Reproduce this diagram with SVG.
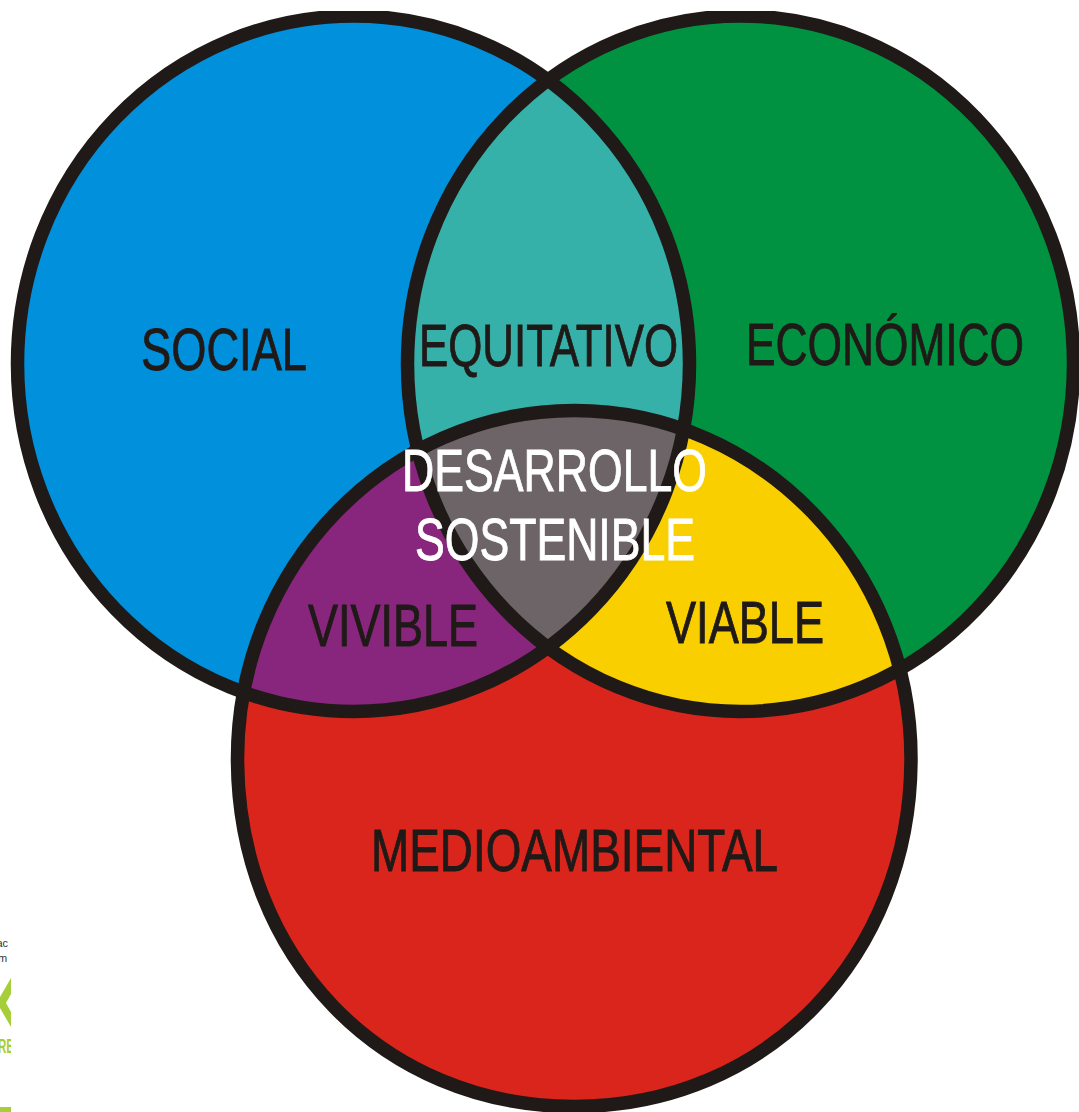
<svg xmlns="http://www.w3.org/2000/svg" width="1079" height="1112" viewBox="0 0 1079 1112">
<style>
.o{fill:none;stroke:#1f1a17;stroke-width:13.5}
.t{font-family:"Liberation Sans Narrow","Liberation Sans",Arial,sans-serif;font-size:59px;fill:#1f1a17;stroke:#1f1a17;stroke-width:.9}
.w{fill:#fff;stroke:#fff}
</style>
<defs>
<ellipse id="eb" cx="353.500" cy="363.750" rx="336" ry="347.750"/>
<ellipse id="eg" cx="740.500" cy="363.750" rx="333" ry="347.750"/>
<path id="er" d="M237.500 758.500C237.500 566.300 388.300 410.500 574.250 410.500C760.200 410.500 911 566.300 911 758.500C911 956.900 766.300 1106.500 574.250 1106.500C382.200 1106.500 237.500 956.900 237.500 758.500Z"/>
<clipPath id="cb"><use href="#eb"/></clipPath>
<clipPath id="cg"><use href="#eg"/></clipPath>
<clipPath id="top"><rect x="0" y="11" width="1079" height="1101"/></clipPath>
<clipPath id="logo"><rect x="0" y="900" width="11" height="212"/></clipPath>
</defs>
<rect width="1079" height="1112" fill="#fff"/>
<g id="logo-fragment" clip-path="url(#logo)">
<text x="-6" y="947" font-family="Liberation Sans,sans-serif" font-size="11" fill="#333">lac</text>
<text x="-2" y="962" font-family="Liberation Sans,sans-serif" font-size="11" fill="#333">m</text>
<polygon points="11,978 0,997 0,1008 11,1027 11,1012 6,1003 11,994" fill="#a6ce39"/>
<text x="-2" y="1053" font-family="Liberation Sans,sans-serif" font-weight="bold" font-size="21" fill="#a6ce39" textLength="16" lengthAdjust="spacingAndGlyphs">RE</text>
<rect x="0" y="1107" width="11" height="5" fill="#a6ce39"/>
</g>
<g clip-path="url(#top)">
<g id="social"><use href="#eb" fill="#0090dc"/></g>
<g id="economico"><use href="#eg" fill="#009240"/></g>
<g id="medioambiental"><use href="#er" fill="#da251c"/></g>
<g id="equitativo"><g clip-path="url(#cb)"><use href="#eg" fill="#36b1a9"/></g></g>
<g id="vivible"><g clip-path="url(#cb)"><use href="#er" fill="#87267c"/></g></g>
<g id="viable"><g clip-path="url(#cg)"><use href="#er" fill="#f9cf00"/></g></g>
<g id="desarrollo"><g clip-path="url(#cb)"><g clip-path="url(#cg)"><use href="#er" fill="#6d6468"/></g></g></g>
<g id="connectors"><use href="#eb" class="o"/><use href="#eg" class="o"/><use href="#er" class="o"/></g>
</g>
<g id="labels">
<text class="t" x="141" y="370" textLength="166" lengthAdjust="spacingAndGlyphs">SOCIAL</text>
<text class="t" x="419" y="366" textLength="259" lengthAdjust="spacingAndGlyphs">EQUITATIVO</text>
<text class="t" x="746" y="365" textLength="278" lengthAdjust="spacingAndGlyphs">ECONÓMICO</text>
<text class="t w" x="402" y="491" textLength="305" lengthAdjust="spacingAndGlyphs">DESARROLLO</text>
<text class="t w" x="415" y="560" textLength="280" lengthAdjust="spacingAndGlyphs">SOSTENIBLE</text>
<text class="t" x="308" y="646" textLength="170" lengthAdjust="spacingAndGlyphs">VIVIBLE</text>
<text class="t" x="666" y="643" textLength="158" lengthAdjust="spacingAndGlyphs">VIABLE</text>
<text class="t" x="371" y="871" textLength="407" lengthAdjust="spacingAndGlyphs">MEDIOAMBIENTAL</text>
</g>
</svg>
